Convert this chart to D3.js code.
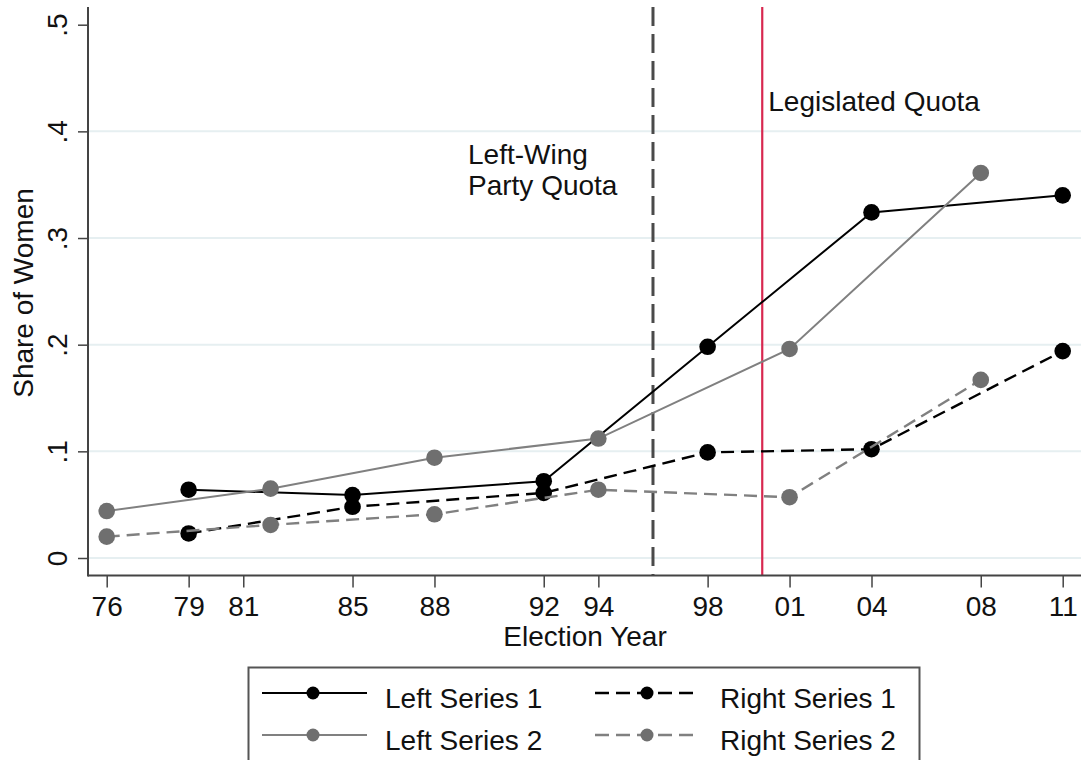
<!DOCTYPE html>
<html>
<head>
<meta charset="utf-8">
<script src="https://cdn.jsdelivr.net/npm/d3@7"></script>
<style>
  html, body { margin: 0; padding: 0; background: #fff; }
  svg { display: block; font-family: "Liberation Sans", Arial, Helvetica, sans-serif; }
</style>
</head>
<body>
<svg id="chart" width="1081" height="760"></svg>
<script>
// ---------------- data ----------------
const tickYears = [1976, 1979, 1981, 1985, 1988, 1992, 1994, 1998, 2001, 2004, 2008, 2011];
const tickLabels = ["76", "79", "81", "85", "88", "92", "94", "98", "01", "04", "08", "11"];
const yTicks = [0, 0.1, 0.2, 0.3, 0.4, 0.5];
const yTickLabels = ["0", ".1", ".2", ".3", ".4", ".5"];
const gridTicks = [0, 0.1, 0.2, 0.3, 0.4];

const yearsA = [1979, 1985, 1992, 1998, 2004, 2011];
const yearsB = [1976, 1982, 1988, 1994, 2001, 2008];
const leftSeries1 = [0.064, 0.059, 0.072, 0.198, 0.324, 0.340];
const leftSeries2 = [0.044, 0.065, 0.094, 0.112, 0.196, 0.361];
const rightSeries1 = [0.023, 0.048, 0.061, 0.099, 0.102, 0.194];
const rightSeries2 = [0.020, 0.031, 0.041, 0.064, 0.057, 0.167];

const seriesNames = ["Left Series 1", "Left Series 2", "Right Series 1", "Right Series 2"];
const partyQuotaYear = 1996;
const legislatedQuotaYear = 2000;

// ---------------- layout ----------------
const svg = d3.select("#chart");
const axisX0 = 88, axisY0 = 575.5, plotTop = 7, plotRight = 1081;

const x = d3.scaleLinear().domain([1976, 2011]).range([106.7, 1062.7]);
const y = d3.scaleLinear().domain([0, 0.5]).range([558, 24.7]);

const black = "#000000", grayLine = "#808080", grayMark = "#6f6f6f";
const FONT = 28;

// gridlines
svg.append("g").selectAll("line").data(gridTicks).join("line")
  .attr("x1", axisX0 + 1).attr("x2", plotRight)
  .attr("y1", d => y(d)).attr("y2", d => y(d))
  .attr("stroke", "#e6eff1").attr("stroke-width", 2);

// vertical reference lines
svg.append("line")
  .attr("x1", x(partyQuotaYear)).attr("x2", x(partyQuotaYear))
  .attr("y1", plotTop).attr("y2", axisY0)
  .attr("stroke", "#4a4a4a").attr("stroke-width", 3)
  .attr("stroke-dasharray", "19,8");
svg.append("line")
  .attr("x1", x(legislatedQuotaYear)).attr("x2", x(legislatedQuotaYear))
  .attr("y1", plotTop).attr("y2", axisY0)
  .attr("stroke", "#d8274f").attr("stroke-width", 2.2);

// annotations
const ann = svg.append("text").attr("x", 468).attr("y", 164).attr("font-size", FONT).attr("fill", "#111");
ann.append("tspan").attr("x", 468).attr("y", 164).text("Left-Wing");
ann.append("tspan").attr("x", 468).attr("y", 195).text("Party Quota");
svg.append("text").attr("x", x(legislatedQuotaYear) + 6).attr("y", 111).attr("font-size", FONT).attr("fill", "#111").text("Legislated Quota");

// series
const series = [
  {name: seriesNames[0], years: yearsA, vals: leftSeries1, line: black, mark: black, dash: null, w: 2},
  {name: seriesNames[1], years: yearsB, vals: leftSeries2, line: grayLine, mark: grayMark, dash: null, w: 2},
  {name: seriesNames[2], years: yearsA, vals: rightSeries1, line: black, mark: black, dash: "13,7", w: 2.4},
  {name: seriesNames[3], years: yearsB, vals: rightSeries2, line: grayLine, mark: grayMark, dash: "13,7", w: 2.4}
];
const lineGen = d3.line().x(d => x(d[0])).y(d => y(d[1]));

series.forEach(s => {
  const pts = s.years.map((yr, i) => [yr, s.vals[i]]);
  svg.append("path").datum(pts).attr("d", lineGen)
    .attr("fill", "none").attr("stroke", s.line).attr("stroke-width", s.w)
    .attr("stroke-dasharray", s.dash);
  svg.append("g").selectAll("circle").data(pts).join("circle")
    .attr("cx", d => x(d[0])).attr("cy", d => y(d[1])).attr("r", 8.3)
    .attr("fill", s.mark);
});

// x axis
const xAxis = d3.axisBottom(x).tickValues(tickYears)
  .tickFormat((d, i) => tickLabels[i]).tickSize(12).tickSizeOuter(0);
const gx = svg.append("g").attr("transform", `translate(0,${axisY0})`).call(xAxis);
gx.select(".domain").remove();
gx.selectAll(".tick line").attr("stroke", "#444").attr("stroke-width", 1.5);
gx.selectAll(".tick text").attr("y", 40.5).attr("dy", 0)
  .attr("font-size", FONT).attr("fill", "#111").attr("font-family", null);
svg.append("line").attr("x1", axisX0).attr("x2", plotRight).attr("y1", axisY0).attr("y2", axisY0)
  .attr("stroke", "#444").attr("stroke-width", 2);

// y axis
const yAxis = d3.axisLeft(y).tickValues(yTicks)
  .tickFormat((d, i) => yTickLabels[i]).tickSize(10).tickSizeOuter(0);
const gy = svg.append("g").attr("transform", `translate(${axisX0},0)`).call(yAxis);
gy.select(".domain").remove();
gy.selectAll(".tick line").attr("stroke", "#444").attr("stroke-width", 1.5);
gy.selectAll(".tick text").attr("x", 0).attr("dy", 0)
  .attr("transform", "translate(-21,0) rotate(-90)")
  .attr("text-anchor", "middle")
  .attr("font-size", FONT).attr("fill", "#111").attr("font-family", null);
svg.append("line").attr("x1", axisX0).attr("x2", axisX0).attr("y1", plotTop).attr("y2", axisY0 + 1)
  .attr("stroke", "#444").attr("stroke-width", 2);

// axis titles
svg.append("text").attr("x", 585).attr("y", 646).attr("text-anchor", "middle")
  .attr("font-size", FONT).attr("fill", "#111").text("Election Year");
svg.append("text").attr("transform", "translate(33,293) rotate(-90)").attr("text-anchor", "middle")
  .attr("font-size", FONT).attr("fill", "#111").text("Share of Women");

// legend
const leg = svg.append("g");
leg.append("rect").attr("x", 248.5).attr("y", 667.5).attr("width", 671).attr("height", 110)
  .attr("fill", "#fff").attr("stroke", "#555").attr("stroke-width", 2);
const legPos = [
  {lx1: 262, lx2: 367, mx: 313, tx: 385, ly: 693},
  {lx1: 262, lx2: 367, mx: 313, tx: 385, ly: 735},
  {lx1: 595, lx2: 698, mx: 647, tx: 720, ly: 693},
  {lx1: 595, lx2: 698, mx: 647, tx: 720, ly: 735}
];
series.forEach((s, i) => {
  const p = legPos[i];
  leg.append("line").attr("x1", p.lx1).attr("x2", p.lx2).attr("y1", p.ly).attr("y2", p.ly)
    .attr("stroke", s.line).attr("stroke-width", s.w).attr("stroke-dasharray", s.dash ? "14,7" : null);
  leg.append("circle").attr("cx", p.mx).attr("cy", p.ly).attr("r", 6.5).attr("fill", s.mark);
  leg.append("text").attr("x", p.tx).attr("y", p.ly + 15).attr("font-size", FONT).attr("fill", "#111").text(s.name);
});
</script>
</body>
</html>
